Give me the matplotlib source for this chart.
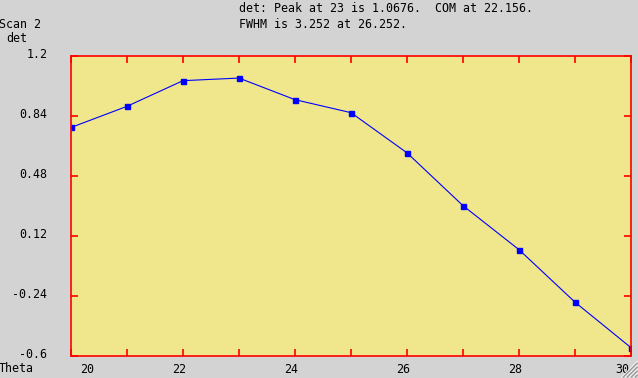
import matplotlib
matplotlib.use("Agg")
import matplotlib.pyplot as plt
import matplotlib.transforms as mtransforms
from matplotlib.lines import Line2D

# Data
theta = [20, 21, 22, 23, 24, 25, 26, 27, 28, 29, 30]
det = [0.771, 0.898, 1.052, 1.0676, 0.938, 0.860, 0.619, 0.302, 0.038, -0.277, -0.55]
xtick_vals = [20, 21, 22, 23, 24, 25, 26, 27, 28, 29, 30]
xtick_labels = ["20", "", "22", "", "24", "", "26", "", "28", "", "30"]
ytick_vals = [1.2, 0.84, 0.48, 0.12, -0.24, -0.6]
ytick_labels = ["1.2", "0.84", "0.48", "0.12", "-0.24", "-0.6"]
title_lines = ["det: Peak at 23 is 1.0676.  COM at 22.156.",
               "FWHM is 3.252 at 26.252."]

W, H = 638, 378
fig = plt.figure(figsize=(W / 100, H / 100), dpi=100, facecolor="#d3d3d3")
FONT = "DejaVu Sans Mono"
FS = 8.4

ax = fig.add_axes([71 / W, (H - 356) / H, 560 / W, 300 / H])
ax.set_facecolor("#f0e68c")
ax.plot(theta, det, color="#0000ff", lw=0.8, marker="s", ms=3.6,
        mec="#0000ff", mfc="#0000ff", clip_on=True)
ax.set_xlim(20, 30)
ax.set_ylim(-0.6, 1.2)
for s in ax.spines.values():
    s.set_color("#ff0000")
    s.set_linewidth(1.2)

ax.set_xticks(xtick_vals)
ax.set_xticklabels(xtick_labels, fontfamily=FONT, fontsize=FS)
ax.set_yticks(ytick_vals)
ax.set_yticklabels(ytick_labels, fontfamily=FONT, fontsize=FS)
ax.tick_params(axis="both", direction="in", color="#ff0000", length=5,
               width=1.2, top=True, right=True)
ax.tick_params(axis="x", pad=5)
ax.tick_params(axis="y", pad=17)

# shift tick labels slightly like original
for i, lab in enumerate(ax.get_xticklabels()):
    dx = -3.5
    if i == 0:
        dx = 16
    elif i == len(xtick_vals) - 1:
        dx = -9
    lab.set_transform(lab.get_transform() +
                      mtransforms.ScaledTranslation(dx / 100, 0, fig.dpi_scale_trans))
for lab in ax.get_yticklabels():
    lab.set_transform(lab.get_transform() +
                      mtransforms.ScaledTranslation(0, 3 / 100, fig.dpi_scale_trans))

# Texts
fig.text(239 / W, 1 - 9 / H, title_lines[0], fontfamily=FONT, fontsize=FS,
         ha="left", va="center")
fig.text(239 / W, 1 - 24 / H, title_lines[1], fontfamily=FONT, fontsize=FS,
         ha="left", va="center")
fig.text(-1 / W, 1 - 24 / H, "Scan 2", fontfamily=FONT, fontsize=FS,
         ha="left", va="center")
fig.text(6 / W, 1 - 39 / H, "det", fontfamily=FONT, fontsize=FS,
         ha="left", va="center")
fig.text(-1 / W, 1 - 369 / H, "Theta", fontfamily=FONT, fontsize=FS,
         ha="left", va="center")

# resize grip
for k in range(4):
    off = 4 + k * 4
    fig.add_artist(Line2D([(W - off) / W, (W - 1) / W], [1 / H, (off) / H],
                          transform=fig.transFigure, color="#ffffff", lw=1))
    fig.add_artist(Line2D([(W - off + 1.2) / W, (W - 1) / W], [1 / H, (off - 1.2) / H],
                          transform=fig.transFigure, color="#999999", lw=1))

fig.savefig("out.png", dpi=100, facecolor=fig.get_facecolor())
